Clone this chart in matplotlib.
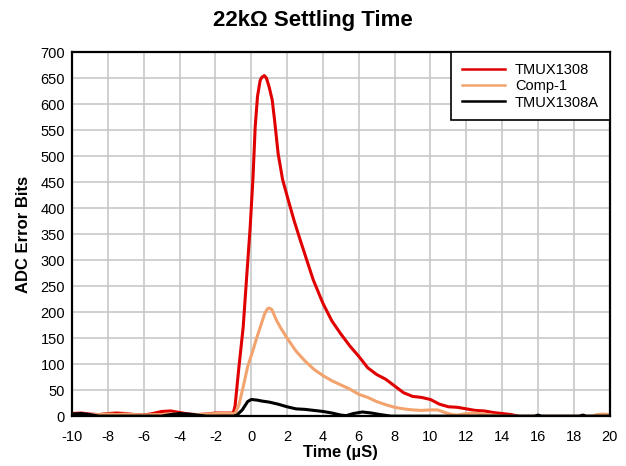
import numpy as np
import matplotlib
matplotlib.use("Agg")
import matplotlib.pyplot as plt

plt.rcParams["font.family"] = ["Liberation Sans", "DejaVu Sans"]
plt.rcParams["axes.unicode_minus"] = False

# Curvas (tempo em µs, erro em bits)
x_tmux = [-10, -9.5, -9, -8.5, -8, -7.5, -7, -6.5, -6, -5.5, -5, -4.5, -4, -3.5,
          -3, -2.5, -2, -1.5, -1, -0.9, -0.7, -0.45, -0.25, -0.06, 0.1, 0.22,
          0.35, 0.5, 0.6, 0.73, 0.85, 1.0, 1.17, 1.3, 1.5, 1.75, 2.07, 2.4, 2.74,
          3.1, 3.46, 4.0, 4.5, 5.0, 5.5, 6.0, 6.5, 7.0, 7.5, 8.0, 8.5, 9.0, 9.5,
          10.0, 10.5, 11.0, 11.5, 12.0, 12.5, 13.0, 13.5, 14.0, 14.5, 14.9]
y_tmux = [5, 6, 4, 3, 5, 6, 5, 3, 2, 5, 9, 10, 7, 4,
          3, 4, 6, 6, 6, 20, 90, 171, 270, 363, 460, 556,
          615, 646, 652, 655, 650, 633, 608, 570, 505, 455, 415, 375, 338,
          300, 262, 217, 183, 158, 135, 115, 93, 80, 71, 58, 45, 38, 36,
          32, 23, 18, 17, 14, 11, 10, 7, 5, 3, 0]

x_comp = [-10, -9.5, -9, -8.5, -8, -7.5, -7, -6.5, -6, -5.5, -5, -4.5, -4, -3.5,
          -3, -2.5, -2, -1.5, -1, -0.9, -0.7, -0.45, -0.2, 0.1, 0.3, 0.5, 0.75,
          0.9, 1.0, 1.15, 1.4, 1.62, 2.0, 2.5, 3.0, 3.5, 4.0, 4.5, 5.0, 5.5, 6.0,
          6.5, 7.0, 7.5, 8.0, 8.5, 9.0, 9.5, 10.0, 10.4, 10.8, 11.2, 11.5, 12.0,
          12.5, 13.0, 13.5, 14.0, 19.0, 19.3, 19.6, 20.0]
y_comp = [3, 4, 3, 3, 4, 3, 4, 3, 2, 3, 3, 4, 4, 3,
          3, 4, 5, 6, 5, 5, 20, 56, 95, 127, 150, 171, 197,
          206, 208, 205, 185, 171, 150, 125, 106, 90, 78, 68, 60, 52, 42,
          36, 28, 22, 17, 14, 12, 11, 12, 12, 7, 3, 2, 5,
          6, 3, 2, 0, 0, 3, 4, 3]

x_tmux_a = [-10, -9.5, -9, -8.5, -5, -4.5, -4, -3.5, -3, -2.5, -1, -0.8, -0.5,
            -0.2, 0.0, 0.3, 0.6, 1.0, 1.5, 2.0, 2.5, 3.0, 3.5, 4.0, 4.5, 5.0,
            5.3, 5.7, 6.2, 6.7, 7.2, 7.8, 15.8, 16.0, 16.2, 18.3, 18.5, 18.7, 20]
y_tmux_a = [4, 5, 3, 0, 0, 3, 5, 4, 2, 0, 0, 2, 12,
            28, 32, 31, 29, 27, 23, 18, 14, 13, 11, 9, 6, 2,
            1, 5, 8, 6, 3, 0, 0, 2, 0, 0, 2, 0, 0]

x_ticks = np.arange(-10, 21, 2)
y_ticks = np.arange(0, 701, 50)

fig = plt.figure(figsize=(6.26, 4.66), dpi=100)
ax = fig.add_axes([0.115, 0.107, 0.859, 0.781])

ax.plot(x_tmux, y_tmux, color="#E00000", lw=2.2, label="TMUX1308")
ax.plot(x_comp, y_comp, color="#F2A36E", lw=2.2, label="Comp-1")
ax.plot(x_tmux_a, y_tmux_a, color="black", lw=2.2, label="TMUX1308A")

ax.set_xlim(-10, 20)
ax.set_ylim(0, 700)
ax.set_xticks(x_ticks)
ax.set_yticks(y_ticks)
ax.tick_params(length=0, labelsize=10.5)
ax.tick_params(axis="x", pad=10)
ax.tick_params(axis="y", pad=5)
ax.grid(True, color="#C8C8C8", lw=1.2)
ax.set_axisbelow(True)

for s in ax.spines.values():
    s.set_linewidth(1.6)
    s.set_color("black")

ax.set_xlabel("Time (µS)", fontsize=12, fontweight="bold", labelpad=1)
ax.set_ylabel("ADC Error Bits", fontsize=12, fontweight="bold", labelpad=7)
fig.text(0.5, 0.957, "22kΩ Settling Time", ha="center", va="center",
         fontsize=16, fontweight="bold")

leg = ax.legend(loc="upper right", borderaxespad=0, fancybox=False,
                framealpha=1, edgecolor="black", fontsize=10.5,
                handlelength=2.9, labelspacing=0.15, borderpad=0.75,
                handletextpad=0.7)
leg.get_frame().set_linewidth(1.2)
for line in leg.get_lines():
    line.set_linewidth(1.8)

fig.savefig("out.png", dpi=100)
